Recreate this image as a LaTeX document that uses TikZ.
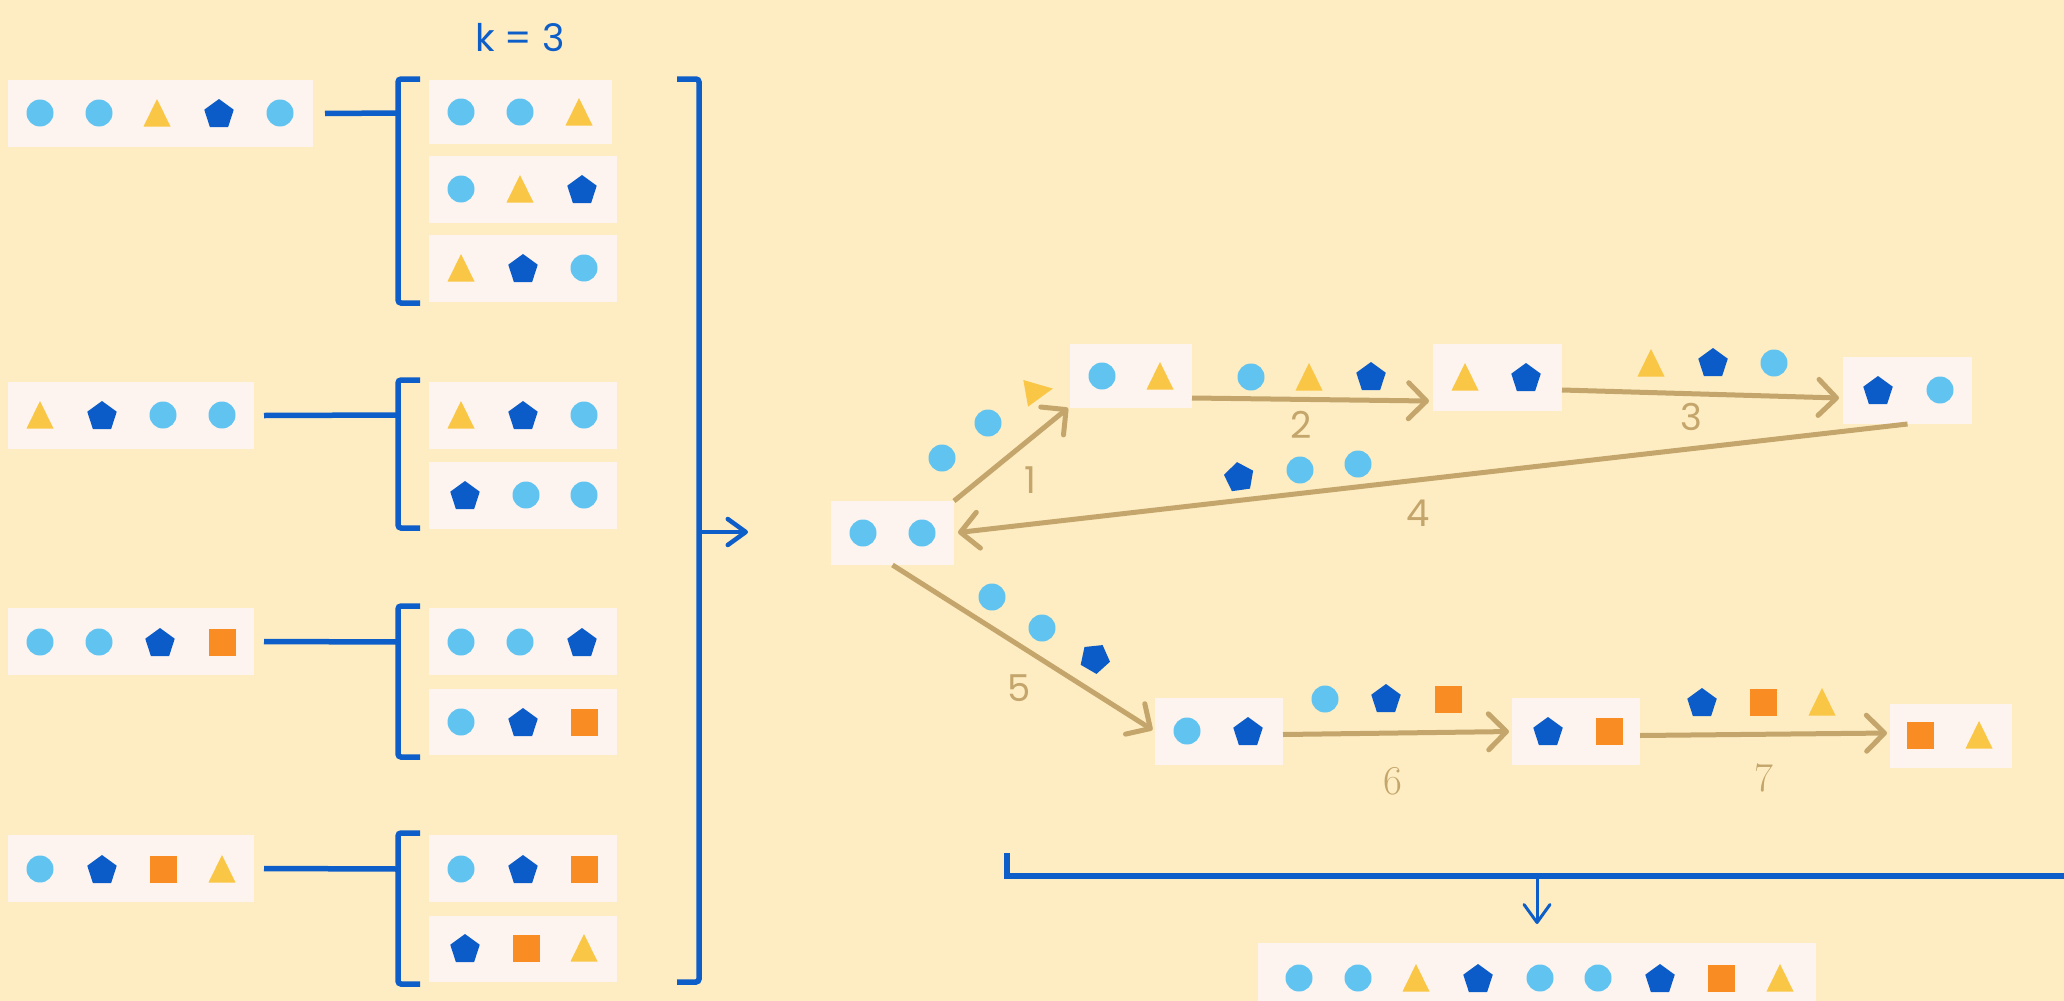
\documentclass[tikz,border=0pt]{standalone}
\usepackage{fontspec}
\newfontfamily\pop{Poppins}
\usetikzlibrary{arrows.meta}

\definecolor{bg}{HTML}{FEEDC2}
\definecolor{boxc}{HTML}{FDF4F0}
\definecolor{lblue}{HTML}{61C3F0}
\definecolor{dblue}{HTML}{0B5CC8}
\definecolor{yel}{HTML}{F9C645}
\definecolor{org}{HTML}{F98C23}
\definecolor{tanc}{HTML}{C4A56B}
\definecolor{brk}{HTML}{0E5EC9}

% token shapes: x, y, rotation
\newcommand\shC[3]{\fill[lblue] (#1,#2) circle (13.5);}
\newcommand\shT[3]{\fill[yel,shift={(#1,#2)},rotate=#3] (0,-14) -- (13.5,13.5) -- (-13.5,13.5) -- cycle;}
\newcommand\shP[3]{\fill[dblue,shift={(#1,#2)},rotate=#3,yshift=-1.5pt] (-90:15.5) -- (-18:15.5) -- (54:15.5) -- (126:15.5) -- (198:15.5) -- cycle;}
\newcommand\shQ[3]{\fill[org] ({#1-13.5},{#2-13.5}) rectangle ({#1+13.5},{#2+13.5});}
\newcommand\token[4]{\csname sh#1\endcsname{#2}{#3}{#4}}
% a row of tokens at height #1
\newcommand\tokrow[2]{\foreach \t/\x in {#2} {\token{\t}{\x}{#1}{0}}}
% a box given by its corners
\newcommand\mkbox[5]{%
  \pgfmathsetmacro\bw{#4-#2}\pgfmathsetmacro\bh{#5-#3}%
  \node[box,minimum width=\bw pt,minimum height=\bh pt] (#1) at ({(#2+#4)/2},{(#3+#5)/2}) {};}

\tikzset{
  box/.style={fill=boxc, draw=none, inner sep=0pt, outer sep=0pt},
  bline/.style={draw=brk, line width=5.5pt},
  brack/.style={draw=brk, line width=5.5pt, rounded corners=3pt},
  flow/.style={draw=tanc, line width=5pt, -{Straight Barb[length=18pt,width=36pt,round]}},
  barrow/.style={draw=brk, line width=4.5pt, -{Straight Barb[length=18pt,width=26pt,round]}},
  lbl/.style={text=tanc, font=\pop\fontsize{37}{42}\selectfont, inner sep=0pt},
  lblserif/.style={text=tanc, font=\fontsize{41}{45}\selectfont, inner sep=0pt},
}

\begin{document}
\begin{tikzpicture}[x=1pt,y=-1pt]
\fill[bg] (0,0) rectangle (2064,1001);
\useasboundingbox (0,0) rectangle (2064,1001);
\clip (0,0) rectangle (2064,1001);

% ---- sequences and their k-mers ----
\node[text=brk, font=\pop\fontsize{38}{42}\selectfont, inner sep=0pt] (k) at (520,38) {k = 3};

\mkbox{in1}{8}{80}{313}{147}
\mkbox{in2}{8}{382}{254}{449}
\mkbox{in3}{8}{608}{254}{675}
\mkbox{in4}{8}{835}{254}{902}

\mkbox{o11}{429}{80}{612}{144}
\mkbox{o12}{429}{156}{617}{223}
\mkbox{o13}{429}{235}{617}{302}
\mkbox{o21}{429}{382}{617}{449}
\mkbox{o22}{429}{462}{617}{529}
\mkbox{o31}{429}{608}{617}{675}
\mkbox{o32}{429}{689}{617}{755}
\mkbox{o41}{429}{835}{617}{902}
\mkbox{o42}{429}{916}{617}{982}

\tokrow{113}{C/40,C/99,T/157,P/219,C/280}
\tokrow{415}{T/40,P/102,C/163,C/222}
\tokrow{642}{C/40,C/99,P/160,Q/222}
\tokrow{869}{C/40,P/102,Q/163,T/222}

\tokrow{112}{C/461,C/520,T/579}
\tokrow{189}{C/461,T/520,P/582}
\tokrow{268}{T/461,P/523,C/584}
\tokrow{415}{T/461,P/523,C/584}
\tokrow{495}{P/465,C/526,C/584}
\tokrow{642}{C/461,C/520,P/582}
\tokrow{722}{C/461,P/523,Q/584}
\tokrow{869}{C/461,P/523,Q/584}
\tokrow{948}{P/465,Q/526,T/584}

% brackets grouping the k-mers
\coordinate (g1) at (398,113);
\coordinate (g2) at (398,415);
\coordinate (g3) at (398,642);
\coordinate (g4) at (398,869);
\draw[bline] ([xshift=12pt]in1.east) -- (g1);
\draw[bline] ([xshift=10pt]in2.east) -- (g2);
\draw[bline] ([xshift=10pt]in3.east) -- (g3);
\draw[bline] ([xshift=10pt]in4.east) -- (g4);
\draw[brack] (420,79) -- (398,79) -- (398,303) -- (420,303);
\draw[brack] (420,380) -- (398,380) -- (398,528) -- (420,528);
\draw[brack] (420,606) -- (398,606) -- (398,757) -- (420,757);
\draw[brack] (420,833) -- (398,833) -- (398,984) -- (420,984);
\draw[brack] (677,79) -- (699,79) -- (699,982) -- (677,982);
\coordinate (all) at (699,532);
\coordinate (allout) at (748,532);
\draw[barrow] (all) -- (allout);

% ---- de Bruijn graph walk ----
\mkbox{S}{831}{501}{954}{565}
\mkbox{A}{1070}{344}{1192}{408}
\mkbox{B}{1433}{344}{1562}{411}
\mkbox{C}{1843}{357}{1972}{424}
\mkbox{D}{1155}{698}{1283}{765}
\mkbox{E}{1512}{698}{1640}{765}
\mkbox{F}{1890}{704}{2012}{768}

\tokrow{533}{C/863,C/922}
\tokrow{376}{C/1102,T/1160}
\tokrow{377}{T/1465,P/1526}
\tokrow{390}{P/1878,C/1940}
\tokrow{731}{C/1187,P/1248}
\tokrow{731}{P/1548,Q/1609}
\tokrow{735}{Q/1920,T/1979}

\draw[flow] (S.north east) -- ([xshift=-2pt]A.south west);
\draw[flow] ([yshift=10pt]A.south east) -- ([xshift=-4pt,yshift=10pt]B.south west);
\draw[flow] ([yshift=21pt]B.south east) -- ([xshift=-4pt,yshift=26pt]C.south west);
\draw[flow, shorten >=4pt] (C.south) -- (S.east);
\draw[flow, shorten >=3pt] (S.south) -- (D.west);
\draw[flow, shorten >=3pt] ([yshift=-3pt]D.east) -- (E.west);
\draw[flow, shorten >=3pt] ([yshift=-4pt]E.east) -- ([yshift=3pt]F.west);

\node[lbl] (l1) at (1030,480) {1};
\node[lbl] (l2) at (1301,425) {2};
\node[lbl] (l3) at (1691,417) {3};
\node[lbl] (l4) at (1418,513) {4};
\node[lbl] (l5) at (1019,688) {5};
\node[lblserif] (l6) at (1393,781) {6};
\node[lblserif] (l7) at (1764,778) {7};

% tokens carried along each edge
\token{C}{942}{458}{0}
\token{C}{988}{423}{0}
\token{T}{1039}{391}{-80}
\token{C}{1251}{377}{0}
\token{T}{1309}{377}{0}
\token{P}{1371}{376}{0}
\token{T}{1651}{363}{0}
\token{P}{1713}{362}{0}
\token{C}{1774}{363}{0}
\token{P}{1239}{476}{8}
\token{C}{1300}{470}{0}
\token{C}{1358}{464}{0}
\token{C}{992}{597}{0}
\token{C}{1042}{628}{0}
\token{P}{1095}{660}{186}
\token{C}{1325}{699}{0}
\token{P}{1386}{698}{0}
\token{Q}{1448}{699}{0}
\token{P}{1702}{702}{0}
\token{Q}{1763}{702}{0}
\token{T}{1822}{702}{0}

% ---- assembled sequence ----
\coordinate (bl) at (1007,853);
\coordinate (bm) at (1537,876);
\draw[bline] (bl) -- (1007,876) -- (2070,876);
\mkbox{fin}{1258}{943}{1816}{1012}
\tokrow{978}{C/1299,C/1358,T/1416,P/1478,C/1540,C/1598,P/1660,Q/1721,T/1780}
\draw[barrow, line width=3pt, shorten >=19pt] (bm) -- (fin.north);
\end{tikzpicture}
\end{document}
